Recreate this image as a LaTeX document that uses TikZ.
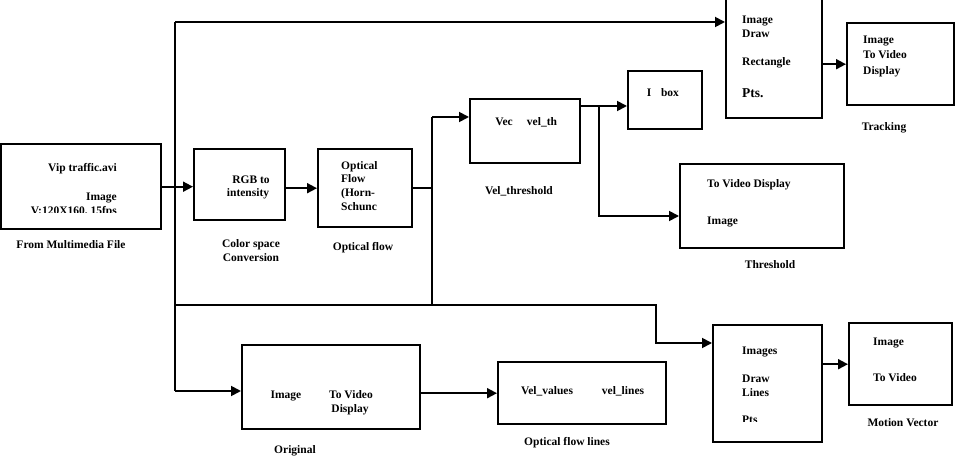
\documentclass[tikz,border=0pt]{standalone}
\usepackage{fontspec}
\setmainfont{Liberation Serif}
\usetikzlibrary{arrows.meta}
\begin{document}
\begin{tikzpicture}[x=1pt,y=-1pt,
  blk/.style={draw, line width=2.4pt, inner sep=0pt, anchor=north west},
  con/.style={line width=1.8pt},
  arr/.style={con, -{Triangle[length=10pt,width=10pt]}},
  txt/.style={font=\fontsize{11.5}{13.5}\selectfont\bfseries, inner sep=0pt},
  lt/.style={txt, anchor=base west},
  ct/.style={txt, anchor=base},
  rt/.style={txt, anchor=base east}]
\useasboundingbox (0,0) rectangle (961,462);
% boxes
\node[blk, minimum width=160pt, minimum height=85pt] (src) at (0,143) {};
\node[blk, minimum width=91pt, minimum height=71pt] (rgb) at (193,148) {};
\node[blk, minimum width=94pt, minimum height=78pt] (of) at (317,148) {};
\node[blk, minimum width=110pt, minimum height=64pt] (vec) at (469,98) {};
\node[blk, minimum width=74pt, minimum height=58pt] (ibox) at (627,70) {};
\node[blk, minimum width=164pt, minimum height=84pt] (thr) at (679,163) {};
\node[blk, minimum width=96pt, minimum height=119pt] (drw) at (725,-2) {};
\node[blk, minimum width=107pt, minimum height=82pt] (trk) at (846,22) {};
\node[blk, minimum width=178pt, minimum height=84pt] (orig) at (241,344) {};
\node[blk, minimum width=168pt, minimum height=62pt] (vel) at (497,361) {};
\node[blk, minimum width=109pt, minimum height=117pt] (lines) at (712,324) {};
\node[blk, minimum width=103pt, minimum height=82pt] (motion) at (848,322) {};
% junction coordinates
\coordinate (vtop) at (175,22);
\coordinate (vmid) at (175,305);
\coordinate (vbot) at (175,391);
\coordinate (hm1) at (656,305);
\coordinate (hm2) at (656,343);
\coordinate (k1) at (432,117);
\coordinate (k2) at (432,305);
\coordinate (k3) at (433,187);
\coordinate (b1) at (599,106);
\coordinate (b2) at (599,216);
% connectors
\draw[arr] (src.east) -- (src.east -| rgb.west);
\draw[con] (vtop) -- (vbot);
\draw[arr] (vtop) -- (vtop -| drw.west);
\draw[arr] (vbot) -- (vbot -| orig.west);
\draw[arr] (vmid) -- (hm1) -- (hm2) -- (hm2 -| lines.west);
\draw[arr] (of.west -| rgb.east) -- (of.west);
\draw[con] (of.east) -- (of.east -| k3);
\draw[con] (k1) -- (k2);
\draw[arr] (k1) -- (k1 -| vec.west);
\draw[arr] (vec.east |- b1) -- (b1 -| ibox.west);
\draw[arr] (b1) -- (b2) -- (b2 -| thr.west);
\draw[arr] (trk.west -| drw.east) -- (trk.west);
\draw[arr] (vel.west -| orig.east) -- (vel.west);
\draw[arr] (motion.west -| lines.east) -- (motion.west);
% texts
\node[rt] (s1) at (117,172) {Vip traffic.avi};
\node[rt] (s2) at (117,201) {Image};
\begin{scope}
\clip (0,200) rectangle (160,213);
\node[rt] (s3) at (117,215) {V:120X160, 15fps};
\end{scope}
\node[ct] (s4) at (71,249) {From Multimedia File};
\node[ct] (r1) at (251,184) {RGB to};
\node[ct] (r2) at (248,197) {intensity};
\node[ct] (r3) at (251,248) {Color space};
\node[ct] (r4) at (251,262) {Conversion};
\node[lt] (o1) at (341,170) {Optical};
\node[lt] (o2) at (341,183) {Flow};
\node[lt] (o3) at (341,197) {(Horn-};
\node[lt] (o4) at (341,211) {Schunc};
\node[ct] (o5) at (363,251) {Optical flow};
\node[ct] (v1) at (504,126) {Vec};
\node[ct] (v2) at (542,126) {vel\_th};
\node[ct] (v3) at (519,195) {Vel\_threshold};
\node[ct] (i1) at (649,97) {I};
\node[ct] (i2) at (670,97) {box};
\node[lt] (t1) at (707,188) {To Video Display};
\node[lt] (t2) at (707,225) {Image};
\node[ct] (t3) at (770,269) {Threshold};
\node[lt] (d1) at (742,24) {Image};
\node[lt] (d2) at (742,38) {Draw};
\node[lt] (d3) at (742,66) {Rectangle};
\node[lt, font=\fontsize{13.5}{15}\selectfont\bfseries] (d4) at (742,98) {Pts.};
\node[lt] (k4) at (863,44) {Image};
\node[lt] (k5) at (863,59) {To Video};
\node[lt] (k6) at (863,75) {Display};
\node[ct] (k7) at (884,131) {Tracking};
\node[ct] (g1) at (286,398) {Image};
\node[ct] (g2) at (351,398) {To Video};
\node[ct] (g3) at (350,412) {Display};
\node[ct] (g4) at (295,453) {Original};
\node[ct] (e1) at (547,394) {Vel\_values};
\node[ct] (e2) at (623,394) {vel\_lines};
\node[ct] (e3) at (567,445) {Optical flow lines};
\node[lt] (l1) at (742,354) {Images};
\node[lt] (l2) at (742,382) {Draw};
\node[lt] (l3) at (742,396) {Lines};
\begin{scope}
\clip (712,410) rectangle (821,421);
\node[lt] (l4) at (742,423) {Pts};
\end{scope}
\node[lt] (m1) at (873,345) {Image};
\node[lt] (m2) at (873,381) {To Video};
\node[ct] (m3) at (903,426) {Motion Vector};
\end{tikzpicture}
\end{document}
